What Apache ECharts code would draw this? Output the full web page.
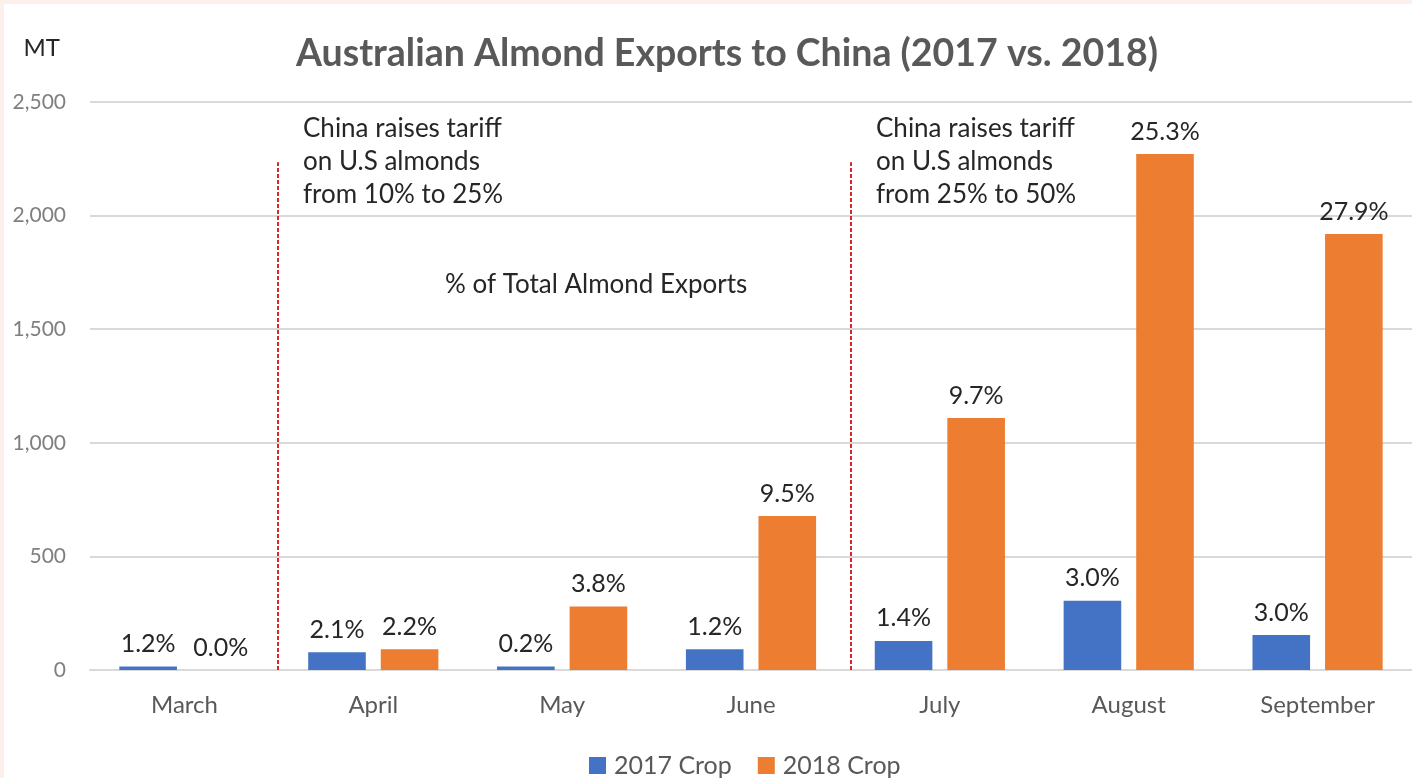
<!DOCTYPE html>
<html>
<head>
<meta charset="utf-8">
<script src="https://cdn.jsdelivr.net/npm/echarts@6/dist/echarts.min.js"></script>
<style>
  html, body { margin: 0; padding: 0; background: #fbf1ea; }
  #chart { position: absolute; left: 4px; top: 4px; width: 1408px; height: 774px; background: #fff; }
</style>
</head>
<body>
<div id="chart"></div>
<script>
// data
var months = ['March', 'April', 'May', 'June', 'July', 'August', 'September'];
var crop2017 = [15, 78, 15, 91, 128, 305, 154];
var crop2018 = [0, 91, 279, 678, 1109, 2271, 1919];
var share2017 = ['1.2%', '2.1%', '0.2%', '1.2%', '1.4%', '3.0%', '3.0%'];
var share2018 = ['0.0%', '2.2%', '3.8%', '9.5%', '9.7%', '25.3%', '27.9%'];
var yTicks = [0, 500, 1000, 1500, 2000, 2500];
var tariffLines = [0.995, 4.03];

var font = 'Lato, "Open Sans", sans-serif';
var chart = echarts.init(document.getElementById('chart'));

chart.setOption({
  animation: false,
  textStyle: { fontFamily: font },
  title: {
    text: 'Australian Almond Exports to China (2017 vs. 2018)',
    left: 718, top: 26, textAlign: 'center',
    textStyle: { color: '#595959', fontSize: 37.5, fontWeight: 'bold', fontFamily: font }
  },
  legend: {
    top: 744, left: 580,
    icon: 'rect', itemWidth: 17, itemHeight: 17, itemGap: 26,
    textStyle: { color: '#595959', fontSize: 25, fontFamily: font, padding: [0, 0, 0, 3] },
    data: ['2017 Crop', '2018 Crop']
  },
  grid: { left: 86, right: 0, top: 98, bottom: 108 },
  xAxis: [{
    type: 'category',
    data: months,
    axisTick: { show: false },
    axisLine: { lineStyle: { color: '#d9d9d9', width: 2 } },
    axisLabel: { color: '#595959', fontSize: 24, margin: 23, fontFamily: font }
  }, {
    type: 'value', min: 0, max: 7, show: false
  }],
  yAxis: {
    type: 'value', min: 0, max: 2500, interval: 500,
    name: 'MT',
    nameLocation: 'end',
    nameGap: 42,
    nameTextStyle: { color: '#262626', fontSize: 24, align: 'right', padding: [0, 30, 0, 0], fontFamily: font },
    axisLabel: {
      color: '#7f7f7f', fontSize: 21, margin: 24, fontFamily: font,
      formatter: function (v) { return yTicks.indexOf(v) >= 0 ? v.toLocaleString('en-US') : ''; }
    },
    axisLine: { show: false },
    axisTick: { show: false },
    splitLine: { lineStyle: { color: '#d9d9d9', width: 2 } }
  },
  series: [{
    name: '2017 Crop', type: 'bar', data: crop2017,
    barWidth: '30.5%', barGap: '26%',
    itemStyle: { color: '#4472c4' },
    label: {
      show: true, position: 'top', distance: 10,
      color: '#262626', fontSize: 25, fontFamily: font,
      formatter: function (p) { return share2017[p.dataIndex]; }
    }
  }, {
    name: '2018 Crop', type: 'bar', data: crop2018,
    barWidth: '30.5%',
    itemStyle: { color: '#ed7d31' },
    label: {
      show: true, position: 'top', distance: 10,
      color: '#262626', fontSize: 25, fontFamily: font,
      formatter: function (p) { return share2018[p.dataIndex]; }
    }
  }, {
    type: 'line', xAxisIndex: 1, data: [], silent: true,
    markLine: {
      symbol: 'none', silent: true, label: { show: false },
      lineStyle: { color: '#d42a2a', type: [4, 2], width: 2 },
      data: tariffLines.map(function (x) {
        return [{ coord: [x, 0] }, { coord: [x, 2235] }];
      })
    }
  }],
  graphic: [{
    type: 'text', left: 299, top: 108,
    style: {
      text: 'China raises tariff\non U.S almonds\nfrom 10% to 25%',
      fill: '#262626', font: '26px ' + font, lineHeight: 33
    }
  }, {
    type: 'text', left: 872, top: 108,
    style: {
      text: 'China raises tariff\non U.S almonds\nfrom 25% to 50%',
      fill: '#262626', font: '26px ' + font, lineHeight: 33
    }
  }, {
    type: 'text', left: 441, top: 268,
    style: { text: '% of Total Almond Exports', fill: '#262626', font: '26px ' + font }
  }]
});
</script>
</body>
</html>
